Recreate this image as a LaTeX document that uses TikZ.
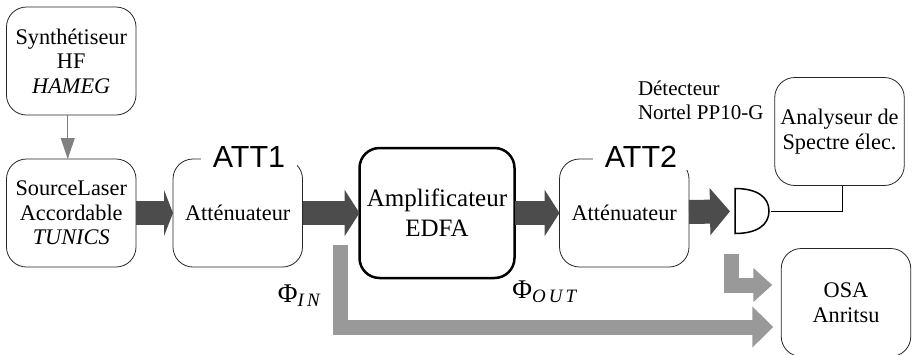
\documentclass[tikz,border=0pt]{standalone}
\usepackage{fontspec}
\setmainfont{Liberation Serif}
\newfontfamily\attfont{Liberation Sans}
\usetikzlibrary{arrows.meta, positioning}

\begin{document}
\begin{tikzpicture}[x=1pt, y=-1pt,
        every node/.style={outer sep=0pt},
        box/.style={draw=black!85, line width=0.8pt, rounded corners=20pt, minimum width=129.5pt, minimum height=108pt, align=center, inner sep=0pt, font=\fontsize{22.3}{24.5}\selectfont},
        ampbox/.style={box, draw=black, line width=2.5pt, minimum width=155pt, minimum height=130pt, font=\fontsize{25}{30}\selectfont},
        atttitle/.style={fill=white, inner xsep=12pt, inner ysep=3pt, text height=22pt, text depth=0pt, font=\attfont\fontsize{30.5}{31}\selectfont},
        label/.style={align=left, inner sep=0pt, font=\fontsize{21}{24}\selectfont},
        phi/.style={inner sep=0pt, font=\fontsize{27}{30}\selectfont},
        darkflow/.style={draw=black!70, line width=24pt, -{Triangle[length=15pt, width=46pt]}},
        lightflow/.style={draw=black!40, line width=15pt, -{Triangle[length=21pt, width=40pt]}}]
        \useasboundingbox (0,0) rectangle (914,354);

        \node[box] (src) at (71.25,213) {SourceLaser\\Accordable\\\textit{TUNICS}};
        \node[box] (synth) [above=44pt of src] {Synthétiseur\\HF\\\textit{HAMEG}};
        \node[box] (att1) [right=37pt of src] {Atténuateur};
        \node[ampbox] (edfa) [right=57pt of att1] {Amplificateur\\EDFA};
        \node[box] (att2) [right=45pt of edfa] {Atténuateur};
        \node[minimum width=34pt, minimum height=45pt, inner sep=0pt] (det) at (752,211) {};
        \node[box] (ana) at (839.5,131.5) {Analyseur de\\Spectre élec.};
        \node[box] (osa) at (846,302.5) {OSA\\Anritsu};

        \node[atttitle] (title1) at (249,156) {ATT1};
        \node[atttitle] (title2) at (641,156) {ATT2};
        \node[label] (detlabel) [anchor=west] at (638,100) {Détecteur\\Nortel PP10-G};
        \node[phi] (phiin) at (299.5,296) {Φ\textsubscript{\textit{I\,N}}};
        \node[phi] (phiout) at (545,292) {Φ\textsubscript{\textit{O\,U\,T}}};

        \coordinate (tapin) at (340.5,245);
        \coordinate (tapout) at (731,254);

        \draw[line width=1.5pt] (det.north west) .. controls ([xshift=22pt]det.north west) and ([yshift=14pt]det.east) .. (det.east)
            .. controls ([yshift=-14pt]det.east) and ([xshift=22pt]det.south west) .. (det.south west) -- cycle;

        \path
            (src) edge[darkflow, -{Triangle[length=9pt, width=46pt]}] (att1)
            (att1) edge[darkflow] (edfa)
            (edfa) edge[darkflow] (att2)
            (att2) edge[darkflow, shorten >=5pt, -{Triangle[length=20pt, width=46pt]}] (det);

        \draw[lightflow, shorten >=8pt] (tapin) |- ([yshift=-24.5pt]osa.west);
        \draw[lightflow, shorten >=9pt, -{Triangle[length=19pt, width=33pt]}] (tapout) |- ([yshift=17.5pt]osa.west);
        \draw[draw=black!50, line width=1pt, -{Triangle[length=21pt, width=14pt]}] ([xshift=-3.5pt]synth.south) -- ([xshift=-3.5pt]src.north);
        \draw[line width=1pt, shorten <=2pt] (det.east) -| ([xshift=2.5pt]ana.south);
    \end{tikzpicture}
\end{document}
